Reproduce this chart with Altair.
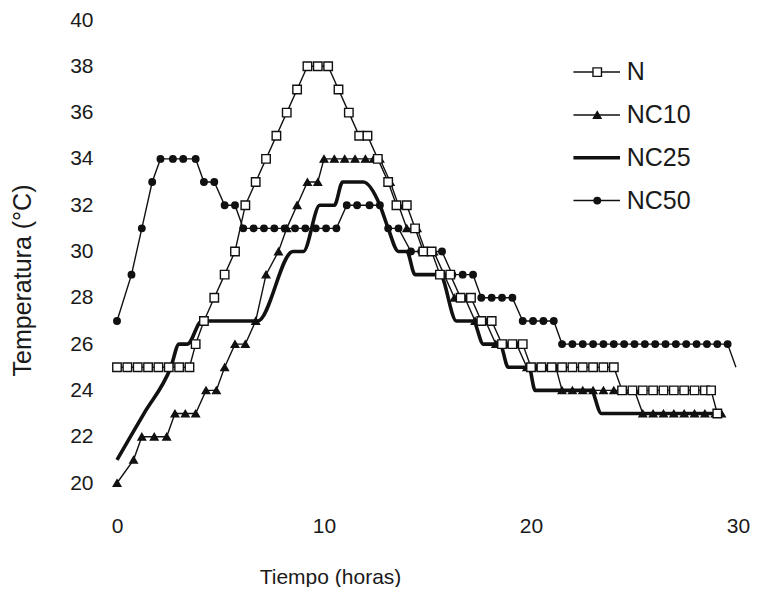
import altair as alt
import pandas as pd

SERIES = ["N", "NC10", "NC25", "NC50"]
X_TICKS = [0, 10, 20, 30]
Y_TICKS = [20, 22, 24, 26, 28, 30, 32, 34, 36, 38, 40]

# N (open squares)
N_t = [0, 0.5, 1, 1.5, 2, 2.5, 3, 3.5,
       3.8, 4.2, 4.7, 5.2, 5.7, 6.2, 6.7, 7.2, 7.7, 8.2, 8.7, 9.2, 9.7, 10.2,
       10.7, 11.2, 11.7, 12.1, 12.6, 13.1,
       13.5, 14.0, 14.4, 14.8, 15.2, 15.6, 16.1, 16.6, 17.1, 17.6, 18.1, 18.6, 19.1, 19.6,
       20.0, 20.5, 21.0, 21.5, 22.0, 22.5, 23.0, 23.5, 24.0,
       24.4, 24.9, 25.4, 25.9, 26.4, 26.9, 27.4, 27.9, 28.4, 28.7, 29.0]
N_T = [25, 25, 25, 25, 25, 25, 25, 25,
       26, 27, 28, 29, 30, 32, 33, 34, 35, 36, 37, 38, 38, 38,
       37, 36, 35, 35, 34, 33,
       32, 32, 31, 30, 30, 29, 29, 28, 28, 27, 27, 26, 26, 26,
       25, 25, 25, 25, 25, 25, 25, 25, 25,
       24, 24, 24, 24, 24, 24, 24, 24, 24, 24, 23]

# NC10 (filled triangles)
NC10_t = [0, 0.8, 1.2, 1.8, 2.4, 2.8, 3.3, 3.8, 4.3, 4.8, 5.2, 5.7, 6.2, 6.7, 7.2,
          7.8, 8.2, 8.7, 9.2, 9.7, 10.0, 10.5, 11.0, 11.5, 12.0, 12.4, 12.7,
          13.2, 13.6, 14.0, 14.5, 14.9, 15.3, 15.8, 16.3, 16.8, 17.3, 17.8,
          18.3, 18.8, 19.3, 19.8, 20.3, 20.8, 21.2,
          21.5, 22.0, 22.5, 23.0, 23.5, 24.0, 24.5, 25.0,
          25.4, 25.9, 26.4, 26.9, 27.4, 27.9, 28.4, 28.9, 29.2]
NC10_T = [20, 21, 22, 22, 22, 23, 23, 23, 24, 24, 25, 26, 26, 27, 29,
          30, 31, 32, 33, 33, 34, 34, 34, 34, 34, 34, 34,
          33, 32, 31, 31, 30, 30, 29, 28, 28, 27, 27,
          26, 26, 26, 25, 25, 25, 25,
          24, 24, 24, 24, 24, 24, 24, 24,
          23, 23, 23, 23, 23, 23, 23, 23, 23]

# NC25 (thick line, no markers)
NC25_t = [0, 1.3, 2.6, 3.0, 3.4, 4.1, 6.8, 8.5, 9.0, 9.8, 10.5, 10.9, 11.9,
          12.7, 13.1, 13.6, 14.0, 14.4, 15.6, 16.4, 17.2, 17.7, 18.5,
          18.9, 19.9, 20.2, 22.9, 23.4, 29.2]
NC25_T = [21, 23, 25, 26, 26, 27, 27, 30, 30, 32, 32, 33, 33,
          32, 31, 30, 30, 29, 29, 27, 27, 26, 26,
          25, 25, 24, 24, 23, 23]

# NC50 (filled circles)
NC50_t = [0, 0.7, 1.2, 1.7, 2.1, 2.7, 3.2, 3.8, 4.2, 4.7, 5.2, 5.7,
          6.1, 6.6, 7.1, 7.6, 8.1, 8.6, 9.1, 9.6, 10.1, 10.6,
          11.1, 11.6, 12.2, 12.7, 13.1, 13.6, 14.2, 14.7, 15.2, 15.7,
          16.2, 16.7, 17.2, 17.6, 18.1, 18.6, 19.1, 19.6, 20.1, 20.6, 21.1,
          21.5, 22.0, 22.5, 23.0, 23.5, 24.0, 24.5, 25.0, 25.5, 26.0, 26.5,
          27.0, 27.5, 28.0, 28.5, 29.0, 29.5, 29.9]
NC50_T = [27, 29, 31, 33, 34, 34, 34, 34, 33, 33, 32, 32,
          31, 31, 31, 31, 31, 31, 31, 31, 31, 31,
          32, 32, 32, 32, 31, 31, 30, 30, 30, 30,
          29, 29, 29, 28, 28, 28, 28, 27, 27, 27, 27,
          26, 26, 26, 26, 26, 26, 26, 26, 26, 26, 26,
          26, 26, 26, 26, 26, 26, 25]

rows = []
for name, ts, vs in [("NC25", NC25_t, NC25_T), ("NC50", NC50_t, NC50_T),
                     ("NC10", NC10_t, NC10_T), ("N", N_t, N_T)]:
    for a, b in zip(ts, vs):
        rows.append({"series": name, "t": a, "T": b})
df = pd.DataFrame(rows)
leg = pd.DataFrame({"series": SERIES})

FONT = "Liberation Sans"
INK = "#111111"
TXT = "#1a1a1a"

x_scale = alt.Scale(domain=[0, 30], nice=False, zero=False)
y_scale = alt.Scale(domain=[20, 40], nice=False, zero=False)
x_axis = alt.Axis(values=X_TICKS, title="Tiempo (horas)", grid=False, domain=False,
                  ticks=False, labelFlush=False, labelFont=FONT, labelFontSize=21,
                  labelColor=TXT, labelPadding=32, titleFont=FONT, titleFontSize=21,
                  titleFontWeight="normal", titleColor=TXT, titlePadding=30,
                  titleX=213, titleAlign="center")
y_axis = alt.Axis(values=Y_TICKS, title="Temperatura (°C)", grid=False, domain=False,
                  ticks=False, labelFont=FONT, labelFontSize=21, labelColor=TXT,
                  labelPadding=24, titleFont=FONT, titleFontSize=25,
                  titleFontWeight="normal", titleColor=TXT, titlePadding=34,
                  titleY=260, titleAlign="center")

X = alt.X("t:Q", scale=x_scale, axis=x_axis)
Y = alt.Y("T:Q", scale=y_scale, axis=y_axis)

mk = ["N", "NC10", "NC50"]
shape_scale = alt.Scale(domain=mk, range=["square", "triangle-up", "circle"])
fill_scale = alt.Scale(domain=mk, range=["white", INK, INK])
size_scale = alt.Scale(domain=mk, range=[72, 42, 36])

lines = alt.Chart(df).transform_filter("datum.series != 'NC25'").mark_line(
    color=INK, strokeWidth=1.4).encode(x=X, y=Y, detail="series:N")

nc25 = alt.Chart(df).transform_filter("datum.series == 'NC25'").mark_line(
    color=INK, interpolate="monotone", strokeWidth=3.6).encode(x=X, y=Y)

pts = alt.Chart(df).transform_filter(
    "datum.series != 'NC25' && datum.t < 29.8").mark_point(
    filled=True, stroke=INK, strokeWidth=1.4, opacity=1).encode(
    x=X, y=Y,
    shape=alt.Shape("series:N", scale=shape_scale, legend=None),
    fill=alt.Fill("series:N", scale=fill_scale, legend=None),
    size=alt.Size("series:N", scale=size_scale, legend=None))

LY = alt.Y("ly:Q", scale=y_scale, axis=y_axis)
legbase = alt.Chart(leg).transform_window(idx="row_number()").transform_calculate(
    ly="37.75 - 1.85 * (datum.idx - 1)")

def lx(v):
    return alt.XDatum(v, type="quantitative", scale=x_scale, axis=x_axis)

leg_rule = legbase.transform_filter("datum.series != 'NC25'").mark_rule(
    color=INK, strokeWidth=1.5).encode(x=lx(22.05), x2=alt.X2Datum(24.3), y=LY)

leg_rule25 = legbase.transform_filter("datum.series == 'NC25'").mark_rule(
    color=INK, strokeWidth=3.6).encode(x=lx(22.05), x2=alt.X2Datum(24.3), y=LY)

leg_pts = legbase.transform_filter("datum.series != 'NC25'").mark_point(
    filled=True, stroke=INK, strokeWidth=1.4, opacity=1).encode(
    x=lx(23.2), y=LY,
    shape=alt.Shape("series:N", scale=shape_scale, legend=None),
    fill=alt.Fill("series:N", scale=fill_scale, legend=None),
    size=alt.Size("series:N", scale=size_scale, legend=None))

leg_txt = legbase.mark_text(align="left", baseline="middle", font=FONT,
                            fontSize=25, color=TXT).encode(
    x=lx(24.62), y=LY, text="series:N")

chart = alt.layer(nc25, lines, pts, leg_rule, leg_rule25, leg_pts, leg_txt).properties(
    width=621, height=463,
    padding={"left": 2, "top": 1, "right": 0, "bottom": 0},
    background="white",
).configure_view(stroke=None)

chart.save("out.html", embed_options={"renderer": "svg", "actions": False})
